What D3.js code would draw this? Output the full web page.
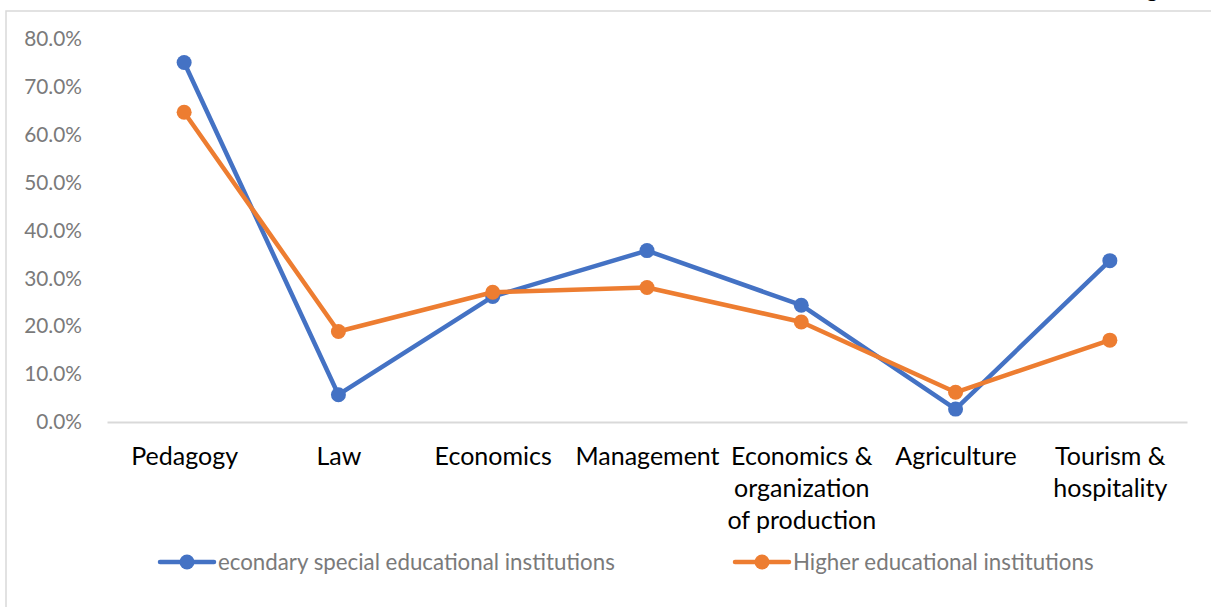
<!DOCTYPE html>
<html>
<head>
<meta charset="utf-8">
<script src="https://cdn.jsdelivr.net/npm/d3@7"></script>
<style>
  body { margin: 0; background: #fff; }
  svg { display: block; font-family: Lato, "Open Sans", sans-serif; }
</style>
</head>
<body>
<script>
// values (share of respondents)
var categories = ["Pedagogy", "Law", "Economics", "Management",
                  "Economics &\norganization\nof production", "Agriculture", "Tourism &\nhospitality"];
var secondary = [0.751, 0.057, 0.262, 0.358, 0.244, 0.027, 0.337];
var higher = [0.647, 0.189, 0.271, 0.281, 0.209, 0.062, 0.171];
var seriesNames = ["econdary special educational institutions", "Higher educational institutions"];
var seriesColors = ["#4472C4", "#ED7D31"];
var yTicks = [0, 0.1, 0.2, 0.3, 0.4, 0.5, 0.6, 0.7, 0.8];

var width = 1211,
    height = 607;

var svg = d3.select("body").append("svg")
    .attr("width", width)
    .attr("height", height);

// chart area border
svg.append("rect")
    .attr("x", 6).attr("y", 11)
    .attr("width", 1230).attr("height", 640)
    .attr("fill", "none")
    .attr("stroke", "#d9d9d9")
    .attr("stroke-width", 1.5);

// tail of the title line above, cut off by the crop
svg.append("text")
    .attr("x", 1146).attr("y", -3)
    .attr("font-size", 24)
    .attr("fill", "#000")
    .text("g");

var x = d3.scalePoint()
    .domain(categories)
    .range([107, 1187])
    .padding(0.5);

var y = d3.scaleLinear()
    .domain([0, 0.8])
    .range([422, 39]);

// y axis
var yAxis = svg.append("g")
    .attr("transform", "translate(107,0)")
    .call(d3.axisLeft(y).tickValues(yTicks).tickFormat(d3.format(".1%")).tickSize(0).tickPadding(25));
yAxis.select(".domain").remove();
yAxis.selectAll("text")
    .attr("font-size", 20.8)
    .attr("font-family", "Lato, sans-serif")
    .attr("fill", "#7a7a7a");

// x axis
var xAxis = svg.append("g")
    .attr("transform", "translate(0," + y(0) + ")")
    .call(d3.axisBottom(x).tickSizeInner(0).tickSizeOuter(0).tickPadding(0));
xAxis.select(".domain")
    .attr("stroke", "#d9d9d9")
    .attr("stroke-width", 2);
xAxis.selectAll("text")
    .attr("font-size", 25)
    .attr("font-family", "Lato, sans-serif")
    .attr("fill", "#000")
    .attr("dy", null)
    .attr("y", 0)
    .each(function(d) {
      var t = d3.select(this).text("");
      d.split("\n").forEach(function(line, i) {
        t.append("tspan")
            .attr("x", 0)
            .attr("y", 43 + i * 32)
            .text(line);
      });
    });

// lines and markers
var line = d3.line()
    .x(function(d, i) { return x(categories[i]); })
    .y(function(d) { return y(d); });

[secondary, higher].forEach(function(values, s) {
  svg.append("path")
      .datum(values)
      .attr("d", line)
      .attr("fill", "none")
      .attr("stroke", seriesColors[s])
      .attr("stroke-width", 4.5)
      .attr("stroke-linejoin", "round");

  svg.selectAll(".dot" + s)
      .data(values)
      .enter()
      .append("circle")
      .attr("class", "dot" + s)
      .attr("cx", function(d, i) { return x(categories[i]); })
      .attr("cy", function(d) { return y(d); })
      .attr("r", 7.5)
      .attr("fill", seriesColors[s]);
});

// legend
var legendX = [160, 735];
var legend = svg.selectAll(".legend")
    .data(seriesNames)
    .enter()
    .append("g")
    .attr("class", "legend")
    .attr("transform", function(d, i) { return "translate(" + legendX[i] + ",562)"; });

legend.append("line")
    .attr("x1", 0).attr("x2", 54)
    .attr("stroke", function(d, i) { return seriesColors[i]; })
    .attr("stroke-width", 4.5)
    .attr("stroke-linecap", "round");

legend.append("circle")
    .attr("cx", 27)
    .attr("r", 7.5)
    .attr("fill", function(d, i) { return seriesColors[i]; });

legend.append("text")
    .attr("x", 58)
    .attr("dy", "0.35em")
    .attr("font-size", 22.3)
    .attr("fill", "#7a7a7a")
    .text(function(d) { return d; });
</script>
</body>
</html>
